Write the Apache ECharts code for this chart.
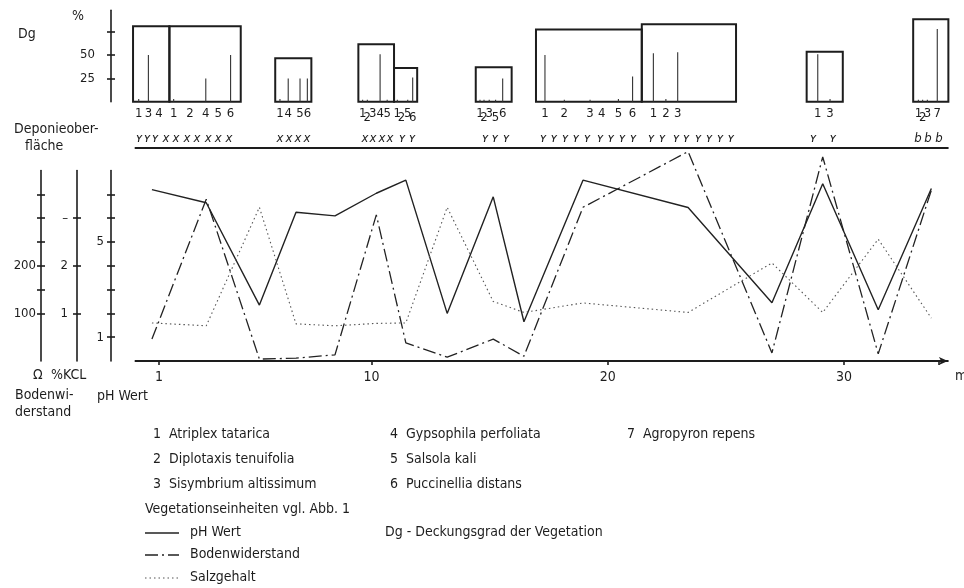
<!DOCTYPE html>
<html><head><meta charset="utf-8">
<script src="https://cdn.jsdelivr.net/npm/echarts@6/dist/echarts.min.js"></script>
<style>html,body{margin:0;padding:0;background:#fff}#c{width:964px;height:588px}</style>
</head><body><div id="c"></div>
<script>
// ---------- DATA ----------
// soil measurement points along the transect (m)
const positions       = [0.7, 3.0, 5.25, 6.8, 8.45, 10.2, 11.45, 13.2, 15.15, 16.45, 18.95, 23.4, 26.95, 29.1, 31.45, 33.7];
const phWert          = [7.2, 6.65, 2.35, 6.25, 6.1, 7.05, 7.6, 2.0, 6.9, 1.65, 7.6, 6.45, 2.45, 7.45, 2.15, 7.25];
const bodenwiderstand = [46, 340, 4, 6, 13, 307, 38, 8, 46, 10, 323, 440, 17, 429, 15, 359];   // Ω
const salzgehalt      = [0.8, 0.74, 3.23, 0.78, 0.74, 0.79, 0.8, 3.23, 1.25, 1.02, 1.22, 1.02, 2.06, 1.02, 2.56, 0.9]; // % KCl

// vegetation units (Dg = total cover, %)
const unitStart = [-0.1, 1.44, 5.92, 9.44, 10.95, 14.41, 16.96, 21.44, 28.42, 32.93];
const unitEnd   = [1.44, 4.46, 7.45, 10.95, 11.93, 15.93, 21.44, 25.43, 29.95, 34.42];
const unitCover = [81, 81, 46.5, 61.5, 36, 37, 77.5, 83, 53.5, 88.5];

// species occurrences: position (m), species number, cover (%)
const speciesPos   = [0.14, 0.55, 1.0,  1.62, 2.31, 2.98, 3.51, 4.03,  6.12, 6.47, 6.97, 7.28,
                      9.62, 9.82, 10.05, 10.36, 10.66,  11.09, 11.26, 11.53, 11.74,
                      14.59, 14.76, 14.98, 15.25, 15.55,  17.34, 18.16, 19.25, 19.74, 20.45, 21.05,
                      21.93, 22.46, 22.96,  28.89, 29.41,  33.15, 33.33, 33.53, 33.95];
const speciesNr    = [1, 3, 4,  1, 2, 4, 5, 6,  1, 4, 5, 6,
                      1, 2, 3, 4, 5,  1, 2, 5, 6,
                      1, 2, 3, 5, 6,  1, 2, 3, 4, 5, 6,
                      1, 2, 3,  1, 3,  1, 2, 3, 7];
const speciesCover = [3, 50, 0,  3, 0, 25, 0, 50,  3, 25, 25, 25,
                      2, 2, 0, 51, 2,  2, 0, 2, 26,
                      2, 2, 2, 2, 25,  50, 2, 2, 0, 3, 27,
                      52, 3, 53,  51, 3,  2, 2, 2, 78];
const speciesNames = ['Atriplex tatarica', 'Diplotaxis tenuifolia', 'Sisymbrium altissimum',
                      'Gypsophila perfoliata', 'Salsola kali', 'Puccinellia distans', 'Agropyron repens'];

// surface of the dump (Deponieoberfläche): marks along the transect
const surfaceVeg = [0.16, 0.49, 0.83, 11.29, 11.71, 14.8, 15.22, 15.69,
                    17.26, 17.72, 18.19, 18.65, 19.12, 19.67, 20.13, 20.6, 21.07,
                    21.83, 22.3, 22.89, 23.31, 23.82, 24.29, 24.75, 25.21, 28.69, 29.53];
const surfaceX   = [1.29, 1.72, 2.18, 2.61, 3.08, 3.51, 3.96, 6.12, 6.5, 6.88, 7.26, 9.72, 10.06, 10.44, 10.78];
const surfaceB   = [33.13, 33.56, 34.02];

// tick labels
const xTickLabels   = [1, 10, 20, 30];
const xTicks        = [1, 10, 20, 30, 34];
const dgTickLabels  = [25, 50];
const dgTicks       = [25, 50, 75];
const phTickLabels  = [1, 5];
const phTicks       = [1, 2, 3, 4, 5, 6, 7];
const kclTickLabels = [1, 2, 3];
const ohmTickLabels = [100, 200];
const ohmTicks      = [100, 150, 200, 250, 300, 350];

// ---------- CHART ----------
const FONT = "'DejaVu Sans Condensed','Liberation Sans Narrow','DejaVu Sans',sans-serif";
const INK = '#1d1d1d';
const X0 = 135.4, XW = 812.5, XMAX = 34.4;
const STYLE_PH  = {color: '#222', width: 1.4, dash: null};
const STYLE_OHM = {color: '#222', width: 1.3, dash: [13, 4, 2, 4]};
const STYLE_KCL = {color: '#555', width: 1.1, dash: [1.5, 3]};

const chart = echarts.init(document.getElementById('c'), null, {renderer: 'canvas'});

const markChars = [];
surfaceVeg.forEach(p => markChars.push([p, 'ʏ']));
surfaceX.forEach(p => markChars.push([p, 'x']));
surfaceB.forEach(p => markChars.push([p, 'b']));

// alternate lowering of crowded species numbers
const lowered = speciesPos.map(() => false);
for (let i = 1; i < speciesPos.length; i++) {
  if (speciesPos[i] - speciesPos[i - 1] < 0.3 && !lowered[i - 1]) lowered[i] = true;
}

function hiddenX(grid) {
  return {type: 'value', gridIndex: grid, min: 0, max: XMAX, show: false};
}
function crossY(grid, max, offset, ticks, labels, margin, labelFmt) {
  const base = {type: 'value', gridIndex: grid, min: 0, max: max, position: 'left', offset: offset,
    splitLine: {show: false}};
  return [
    Object.assign({}, base, {
      axisLine: {show: true, onZero: false, lineStyle: {color: INK, width: 1.6}},
      axisTick: {show: true, inside: false, length: 4, customValues: ticks, lineStyle: {color: INK, width: 1.6}},
      axisLabel: {show: true, customValues: labels, margin: margin, color: INK, fontSize: 13, fontFamily: FONT,
        formatter: labelFmt || (v => String(v))}
    }),
    Object.assign({}, base, {
      axisLine: {show: false, onZero: false},
      axisTick: {show: true, inside: true, length: 4, customValues: ticks, lineStyle: {color: INK, width: 1.6}},
      axisLabel: {show: false}
    })
  ];
}

const yAxes = [];
yAxes.push(...crossY(0, 98, X0 - 111, dgTicks, dgTickLabels, 16));                // 0,1 Dg
yAxes.push({type: 'value', gridIndex: 1, min: 0, max: 1, show: false});           // 2 surface
yAxes.push({type: 'value', gridIndex: 2, min: 0, max: 9.3, show: false});         // 3 pH
yAxes.push({type: 'value', gridIndex: 2, min: 0, max: 465, show: false});         // 4 Ohm
yAxes.push({type: 'value', gridIndex: 2, min: 0, max: 4.65, show: false});        // 5 KCl
yAxes.push(...crossY(3, 8, 0, phTicks, phTickLabels, 7));                         // 6,7 pH visible
yAxes.push(...crossY(3, 4, 34, kclTickLabels, kclTickLabels, 9, v => v === 3 ? '–' : String(v))); // 8,9 KCl
yAxes.push(...crossY(3, 400, 70, ohmTicks, ohmTickLabels, 5));                     // 10,11 Ohm

const texts = [];
function txt(x, y, s, size) {
  texts.push({type: 'text', left: x, top: y,
    style: {text: s, fill: INK, font: (size || 13) + 'px ' + FONT}});
}
function keyLine(y, st) {
  texts.push({type: 'line', shape: {x1: 145, y1: y, x2: 179, y2: y},
    style: {stroke: st.color, lineWidth: st.width, lineDash: st.dash}});
}
txt(18, 27, 'Dg', 14);
txt(72, 9, '%', 14);
txt(14, 122, 'Deponieober-', 14);
txt(25, 139, 'fläche', 14);
txt(33, 368, 'Ω', 14);
txt(51, 368, '%KCL', 14);
txt(15, 388, 'Bodenwi-', 14);
txt(15, 405, 'derstand', 14);
txt(97, 389, 'pH Wert', 14);
txt(955, 369, 'm', 14);
const colX = [153, 390, 627];
speciesNames.forEach((n, i) => {
  const col = Math.floor(i / 3), row = i % 3;
  txt(colX[col], 427 + row * 25, String(i + 1), 14);
  txt(colX[col] + 16, 427 + row * 25, n, 14);
});
txt(145, 502, 'Vegetationseinheiten vgl. Abb. 1', 14);
txt(385, 525, 'Dg - Deckungsgrad der Vegetation', 14);
keyLine(533, STYLE_PH);
keyLine(555, STYLE_OHM);
keyLine(578, STYLE_KCL);
txt(190, 525, 'pH Wert', 14);
txt(190, 547, 'Bodenwiderstand', 14);
txt(190, 570, 'Salzgehalt', 14);

function lineSeries(name, yIdx, values, st) {
  return {name: name, type: 'line', xAxisIndex: 2, yAxisIndex: yIdx, symbol: 'none',
    data: positions.map((p, i) => [p, values[i]]),
    lineStyle: {color: st.color, width: st.width, type: st.dash || 'solid'}, itemStyle: {color: st.color}};
}

const option = {
  backgroundColor: '#fff',
  animation: false,
  textStyle: {fontFamily: FONT},
  grid: [
    {left: X0, top: 10.3, width: XW, height: 91.4},
    {left: X0, top: 120, width: XW, height: 27.3},
    {left: X0, top: 139.7, width: XW, height: 221.3},
    {left: 111, top: 170.6, width: 20, height: 190.4}
  ],
  xAxis: [
    hiddenX(0),
    {type: 'value', gridIndex: 1, min: 0, max: XMAX, axisLine: {show: true, onZero: false, lineStyle: {color: INK, width: 1.8}},
      axisTick: {show: false}, axisLabel: {show: false}, splitLine: {show: false}},
    {type: 'value', gridIndex: 2, min: 0, max: XMAX,
      axisLine: {show: true, onZero: false, symbol: ['none', 'arrow'], symbolSize: [6, 9], lineStyle: {color: INK, width: 1.8}},
      axisTick: {show: true, customValues: xTicks, length: 4, lineStyle: {color: INK, width: 1.6}},
      axisLabel: {show: true, customValues: xTickLabels, margin: 9, color: INK, fontSize: 14, fontFamily: FONT},
      splitLine: {show: false}},
    hiddenX(3)
  ],
  yAxis: yAxes,
  graphic: texts,
  series: [
    {
      name: 'units', type: 'custom', xAxisIndex: 0, yAxisIndex: 0, clip: false,
      data: unitStart.map((s, i) => [s, unitEnd[i], unitCover[i]]),
      encode: {x: [0, 1], y: 2},
      renderItem: (params, api) => {
        const p0 = api.coord([api.value(0), api.value(2)]);
        const p1 = api.coord([api.value(1), 0]);
        return {type: 'rect', shape: {x: p0[0], y: p0[1], width: p1[0] - p0[0], height: p1[1] - p0[1]},
          style: {fill: 'none', stroke: INK, lineWidth: 2}};
      }
    },
    {
      name: 'species', type: 'custom', xAxisIndex: 0, yAxisIndex: 0, clip: false,
      data: speciesPos.map((p, i) => [p, speciesCover[i], speciesNr[i]]),
      encode: {x: 0, y: 1},
      renderItem: (params, api) => {
        const i = params.dataIndex;
        const b = api.coord([api.value(0), 0]);
        const t = api.coord([api.value(0), api.value(1)]);
        const children = [];
        if (api.value(1) > 0) children.push({type: 'line', shape: {x1: b[0], y1: b[1], x2: t[0], y2: t[1]},
          style: {stroke: '#333', lineWidth: 1.1}});
        children.push({type: 'text', x: b[0], y: b[1] + 5 + (lowered[i] ? 4 : 0),
          style: {text: String(api.value(2)), fill: INK, font: '13px ' + FONT, align: 'center', verticalAlign: 'top'}});
        return {type: 'group', children: children};
      }
    },
    {
      name: 'surface', type: 'custom', xAxisIndex: 1, yAxisIndex: 2, clip: false,
      data: markChars.map(m => [m[0], 0]),
      encode: {x: 0, y: 1},
      renderItem: (params, api) => {
        const p = api.coord([api.value(0), 0]);
        return {type: 'text', x: p[0], y: p[1] - 2,
          style: {text: markChars[params.dataIndex][1], fill: INK, font: 'italic 13px ' + FONT,
            align: 'center', verticalAlign: 'bottom'}};
      }
    },
    lineSeries('pH Wert', 3, phWert, STYLE_PH),
    lineSeries('Bodenwiderstand', 4, bodenwiderstand, STYLE_OHM),
    lineSeries('Salzgehalt', 5, salzgehalt, STYLE_KCL)
  ]
};
chart.setOption(option);
</script>
</body></html>
